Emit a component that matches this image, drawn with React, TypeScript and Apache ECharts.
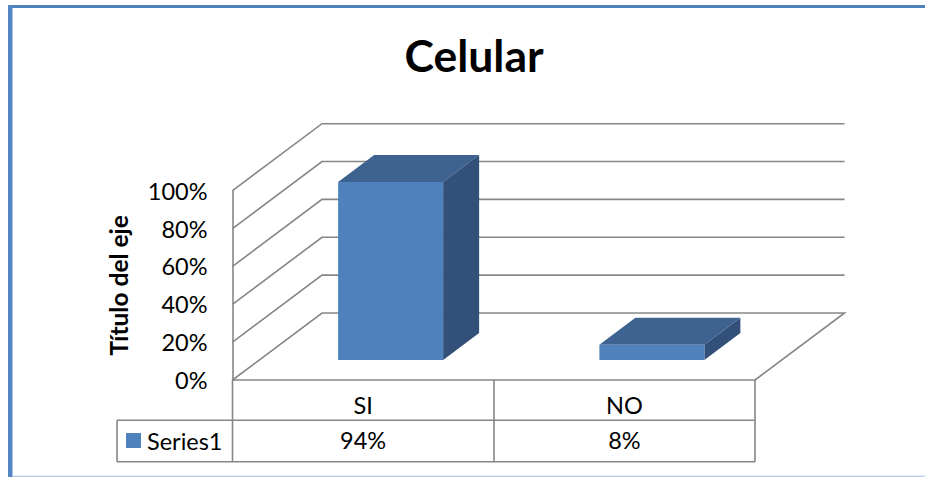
import React, { useEffect, useRef } from "react";
import * as echarts from "echarts";

const categories = ["SI", "NO"];
const seriesValues = [0.94, 0.08];
const seriesName = "Series1";
const tickValues = [0, 0.2, 0.4, 0.6, 0.8, 1];
const chartTitle = "Celular";
const axisTitle = "Título del eje";

const FONT = "Lato";
const TEXT_SIZE = 23.5;
const GRID = "#868686";
const FRONT = "#4F81BD";
const TOP = "#3E6390";
const SIDE = "#325079";
const FRAME = "#4F81BD";
const WALL_DX = 89.5;
const WALL_DY = 67;
const BAR_W = 105;
const BAR_SHIFT_X = 27.5;
const BAR_SHIFT_Y = 20;
const BAR_DX = 36;
const BAR_DY = 27;
const LEFT = 232.5;
const RIGHT = 755;
const MID = 494;
const BOTTOM = 380;
const ROW_1 = 420.3;
const ROW_2 = 461.7;
const TABLE_LEFT = 117;
const LW = 1.6;

const pct = (v: number) => `${Math.round(v * 100)}%`;

const line = (x1: number, y1: number, x2: number, y2: number) => ({
  type: "line",
  shape: { x1, y1, x2, y2 },
  style: { stroke: GRID, lineWidth: LW },
});

export default function App() {
  const ref = useRef<HTMLDivElement>(null);

  useEffect(() => {
    const chart = echarts.init(ref.current!, null, { renderer: "svg" });
    chart.setOption({
      animation: false,
      backgroundColor: "#ffffff",
      title: {
        text: chartTitle,
        left: 469,
        top: 27,
        textAlign: "center",
        textStyle: { fontFamily: FONT, fontWeight: "bold", fontSize: 44.5, color: "#000" },
      },
      legend: {
        data: [{ name: seriesName, icon: "rect" }],
        left: 126,
        top: 428.5,
        itemWidth: 15,
        itemHeight: 15,
        padding: 0,
        textStyle: { fontFamily: FONT, fontSize: TEXT_SIZE, color: "#000", padding: [0, 0, 0, 1] },
      },
      grid: { left: LEFT, right: 925 - RIGHT, top: 190.7, bottom: 477 - BOTTOM },
      xAxis: {
        type: "category",
        data: categories,
        axisTick: { show: false },
        axisLine: { show: true, lineStyle: { color: GRID, width: LW } },
        axisLabel: { fontFamily: FONT, fontSize: TEXT_SIZE, color: "#000", margin: 13 },
      },
      yAxis: {
        type: "value",
        min: 0,
        max: 1,
        interval: 0.2,
        name: axisTitle,
        nameLocation: "middle",
        nameGap: 102,
        nameRotate: 90,
        nameTextStyle: { fontFamily: FONT, fontWeight: "bold", fontSize: 24.5, color: "#000" },
        splitLine: { show: false },
        axisTick: { show: false },
        axisLine: { show: true, lineStyle: { color: GRID, width: LW } },
        axisLabel: {
          fontFamily: FONT,
          fontSize: TEXT_SIZE,
          color: "#000",
          margin: 25,
          formatter: (v: number) => pct(v),
        },
      },
      graphic: [
        { type: "rect", shape: { x: 8, y: 5, width: 917, height: 3 }, style: { fill: FRAME } },
        { type: "rect", shape: { x: 8, y: 5, width: 4.5, height: 472 }, style: { fill: "#5585C5" } },
        { type: "rect", shape: { x: 12, y: 475.7, width: 913, height: 1 }, style: { fill: "#A3BCE3" } },
        line(LEFT, BOTTOM, LEFT, ROW_2),
        line(MID, BOTTOM, MID, ROW_2),
        line(RIGHT, BOTTOM, RIGHT, ROW_2),
        line(TABLE_LEFT, ROW_1, RIGHT, ROW_1),
        line(TABLE_LEFT, ROW_2, RIGHT, ROW_2),
        line(TABLE_LEFT, ROW_1, TABLE_LEFT, ROW_2),
      ],
      series: [
        {
          type: "custom",
          name: "wall",
          silent: true,
          coordinateSystem: "cartesian2d",
          data: tickValues.map((v) => [0, v]),
          encode: { x: 0, y: 1 },
          renderItem: (params: any, api: any) => {
            const v = api.value(1);
            const y = api.coord([0, v])[1];
            const cs = params.coordSys;
            const pts = [
              [cs.x, y],
              [cs.x + WALL_DX, y - WALL_DY],
              [cs.x + cs.width + WALL_DX, y - WALL_DY],
            ];
            if (v === 0) pts.push([cs.x + cs.width, y]);
            return {
              type: "polyline",
              shape: { points: pts },
              style: { stroke: GRID, lineWidth: LW, fill: "none" },
            };
          },
        },
        {
          type: "custom",
          name: seriesName,
          coordinateSystem: "cartesian2d",
          itemStyle: { color: FRONT },
          data: categories.map((_, i) => [i, seriesValues[i]]),
          encode: { x: 0, y: 1 },
          renderItem: (_: any, api: any) => {
            const top = api.coord([api.value(0), api.value(1)]);
            const base = api.coord([api.value(0), 0]);
            const l = top[0] + BAR_SHIFT_X - BAR_W / 2;
            const r = l + BAR_W;
            const t = top[1] - BAR_SHIFT_Y;
            const b = base[1] - BAR_SHIFT_Y;
            return {
              type: "group",
              children: [
                {
                  type: "polygon",
                  shape: { points: [[l, t], [r, t], [r + BAR_DX, t - BAR_DY], [l + BAR_DX, t - BAR_DY]] },
                  style: { fill: TOP },
                },
                {
                  type: "polygon",
                  shape: { points: [[r, t], [r + BAR_DX, t - BAR_DY], [r + BAR_DX, b - BAR_DY], [r, b]] },
                  style: { fill: SIDE },
                },
                { type: "rect", shape: { x: l, y: t, width: BAR_W, height: b - t }, style: { fill: FRONT } },
              ],
            };
          },
        },
        {
          type: "custom",
          name: "table",
          silent: true,
          coordinateSystem: "cartesian2d",
          data: categories.map((_, i) => [i, seriesValues[i]]),
          encode: { x: 0, y: 1 },
          renderItem: (_: any, api: any) => {
            const x = api.coord([api.value(0), 0])[0];
            return {
              type: "text",
              style: {
                text: pct(api.value(1)),
                x,
                y: (ROW_1 + ROW_2) / 2 - 1,
                align: "center",
                verticalAlign: "middle",
                fontFamily: FONT,
                fontSize: TEXT_SIZE,
                fill: "#000",
              },
            };
          },
        },
      ],
    });
    return () => chart.dispose();
  }, []);

  return (
    <div
      ref={ref}
      style={{ position: "absolute", left: 0, top: 0, width: 925, height: 477 }}
    />
  );
}
